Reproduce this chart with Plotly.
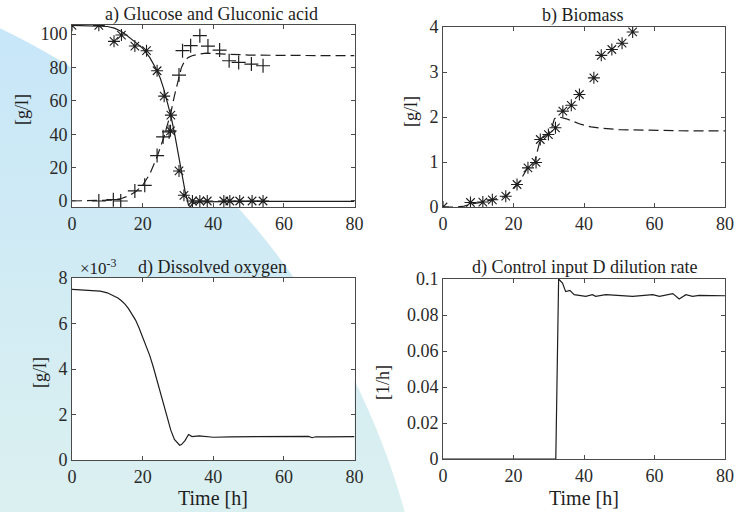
import base64
import plotly.graph_objects as go

# ---------------- data ----------------
time_ticks = [0, 20, 40, 60, 80]

# a) glucose / gluconic acid
t_glu_sim = [0, 5, 10, 12, 14, 15, 16, 18, 20, 22, 24, 25, 26, 27, 28, 29, 30, 31, 32, 33, 33.5, 34, 35, 36, 40, 50, 60, 70, 80]
glu_sim = [105.2, 105, 104.5, 103.5, 101.5, 100, 98.5, 95, 91.5, 86, 78.5, 73.5, 67, 59.5, 51, 41, 30, 18, 6, -2.5, -3.5, -2, -0.8, -0.5, -0.3, -0.2, -0.2, -0.2, -0.2]
t_gla_sim = [0, 10, 12, 14, 16, 18, 20, 22, 24, 26, 27, 28, 29, 30, 31, 32, 33, 34, 36, 38, 40, 45, 50, 60, 80]
gla_sim = [0, 0.2, 0.6, 1.5, 3, 5.5, 9.4, 16, 26, 38, 45, 53, 63, 72, 80, 84.4, 86, 87, 88, 88.5, 88.3, 87.8, 87.4, 87.2, 87]
t_glu_meas = [0, 7.6, 11.9, 14.0, 17.8, 21.1, 24.1, 26.1, 28.0, 27.9, 30.3, 31.7, 34.1, 36.2, 38.3, 43.0, 44.7, 47.5, 51.0, 54.1]
glu_meas = [105.2, 105.2, 95.6, 99.4, 92.8, 90.0, 78.0, 62.8, 51.4, 42.0, 18.0, 3.4, 0, 0, 0, 0, 0, 0, 0, 0]
t_gla_meas = [7.6, 11.7, 13.8, 17.8, 20.6, 24.1, 25.8, 27.5, 30.3, 31.3, 33.6, 36.2, 38.5, 41.8, 44.5, 47.2, 50.8, 54.1]
gla_meas = [0, 0.8, 0, 6, 9.4, 27.2, 38.4, 41.4, 75.4, 90, 93, 99, 92.8, 90.4, 84, 83, 82, 81]

# b) biomass
t_bio_sim = [0, 4, 6, 8, 10, 12, 14, 16, 18, 20, 21, 22, 24, 26, 27.6, 29, 30, 31, 31.6, 32.5, 33, 35, 37, 39, 42, 45, 50, 55, 60, 70, 80]
bio_sim = [0, 0, 0.02, 0.07, 0.09, 0.12, 0.16, 0.2, 0.25, 0.4, 0.5, 0.6, 0.87, 1.0, 1.5, 1.57, 1.63, 1.8, 1.96, 2.0, 2.0, 1.96, 1.9, 1.84, 1.78, 1.75, 1.72, 1.71, 1.70, 1.69, 1.69]
t_bio_meas = [0, 7.8, 11.3, 14, 17.8, 21, 24.1, 26.4, 27.6, 29.9, 31.9, 34, 36.4, 38.7, 42.8, 44.9, 47.9, 50.8, 53.8]
bio_meas = [0, 0.1, 0.11, 0.16, 0.24, 0.5, 0.87, 0.99, 1.5, 1.61, 1.76, 2.13, 2.26, 2.5, 2.87, 3.37, 3.5, 3.64, 3.89]

# d) dissolved oxygen [g/l]
t_do = [0, 5, 8, 10, 12, 13, 14, 15, 16, 17, 18, 19, 20, 21, 22, 23, 24, 25, 26, 27, 28, 29, 30, 30.5, 31, 32, 33, 33.5, 34, 36, 40, 45, 50, 55, 60, 65, 67, 68, 69, 72, 80]
do_sim = [7.5e-3, 7.46e-3, 7.42e-3, 7.35e-3, 7.22e-3, 7.12e-3, 7.0e-3, 6.85e-3, 6.65e-3, 6.42e-3, 6.15e-3, 5.8e-3, 5.4e-3, 5.0e-3, 4.6e-3, 4.1e-3, 3.55e-3, 2.95e-3, 2.35e-3, 1.8e-3, 1.3e-3, 0.9e-3, 0.7e-3, 0.65e-3, 0.68e-3, 0.85e-3, 1.12e-3, 1.06e-3, 1.03e-3, 1.06e-3, 1.0e-3, 1.02e-3, 1.03e-3, 1.02e-3, 1.04e-3, 1.03e-3, 1.04e-3, 0.98e-3, 1.02e-3, 1.02e-3, 1.03e-3]
do_ticks = [0, 0.002, 0.004, 0.006, 0.008]
do_ticktext = ["0", "2", "4", "6", "8"]

# d) control input D
t_d = [0, 32, 32.8, 33.9, 34.8, 36, 37.2, 40.5, 42.4, 43.3, 46.2, 50, 53.8, 59.5, 61.4, 65.2, 67, 68.9, 70.8, 72.7, 80]
d_sim = [0, 0, 0.1, 0.0978, 0.093, 0.0937, 0.0913, 0.0904, 0.0913, 0.0904, 0.0913, 0.0909, 0.0904, 0.0913, 0.0904, 0.0919, 0.0889, 0.0913, 0.0904, 0.0909, 0.0907]

# ---------------- figure ----------------
W, H = 736, 512
FONT = "Liberation Serif"
FS = 18
LINE = "#1e1e1e"
AX = "#4a4a4a"

def px_x(p):
    return p / W

def px_y(p):
    return 1 - p / H

dom = {
    "1": ([px_x(72), px_x(354.5)], [px_y(207), px_y(25)]),
    "2": ([px_x(443), px_x(725)], [px_y(207), px_y(27)]),
    "3": ([px_x(72), px_x(354.5)], [px_y(460), px_y(278)]),
    "4": ([px_x(443), px_x(725)], [px_y(459), px_y(279)]),
}

fig = go.Figure()

def add(x, y, ax, **kw):
    fig.add_trace(go.Scatter(x=x, y=y, xaxis="x" + ax, yaxis="y" + ax, showlegend=False, hoverinfo="skip", **kw))

ln = dict(color=LINE, width=1.2)
dash = dict(color=LINE, width=1.2, dash="10px,5px")
star = dict(symbol="asterisk-open", size=10, color=LINE, line=dict(color=LINE, width=1.1))
plus = dict(symbol="cross-thin-open", size=10, color=LINE, line=dict(color=LINE, width=1.2))

add(t_glu_sim, glu_sim, "", mode="lines", line=ln)
add(t_gla_sim, gla_sim, "", mode="lines", line=dash)
add(t_glu_meas, glu_meas, "", mode="markers", marker=star)
add(t_gla_meas, gla_meas, "", mode="markers", marker=plus)
add(t_bio_sim, bio_sim, "2", mode="lines", line=dash)
add(t_bio_meas, bio_meas, "2", mode="markers", marker=star)
add(t_do, do_sim, "3", mode="lines", line=ln)
add(t_d, d_sim, "4", mode="lines", line=ln)

base = dict(showline=True, linecolor=AX, linewidth=1, mirror="allticks", ticks="inside",
            ticklen=4, tickcolor=AX, showgrid=False, zeroline=False, automargin=False,
            tickfont=dict(family=FONT, size=FS, color="#2a2a2a"))

yranges = {"1": [-3.6, 105.4], "2": [0, 4], "3": [0, 0.008], "4": [0, 0.1]}
layout_axes = {}
for k, (xd, yd) in dom.items():
    sx = "" if k == "1" else k
    xa = dict(base, domain=xd, range=[0, 80], tickvals=time_ticks, anchor="y" + sx)
    ya = dict(base, domain=yd, range=yranges[k], anchor="x" + sx)
    if k == "1":
        ya["tickvals"] = [0, 20, 40, 60, 80, 100]
    if k == "2":
        ya["tickvals"] = [0, 1, 2, 3, 4]
    if k == "3":
        ya["tickvals"] = do_ticks
        ya["ticktext"] = do_ticktext
    if k == "4":
        ya["tickvals"] = [0, 0.02, 0.04, 0.06, 0.08, 0.1]
        ya["ticktext"] = ["0", "0.02", "0.04", "0.06", "0.08", "0.1"]
    layout_axes["xaxis" + sx] = xa
    layout_axes["yaxis" + sx] = ya

# background blob (decoration)
svg = ("<svg xmlns='http://www.w3.org/2000/svg' width='736' height='512' viewBox='0 0 736 512'>"
       "<defs><linearGradient id='g' gradientUnits='userSpaceOnUse' x1='0' y1='0' x2='0' y2='512'>"
       "<stop offset='0' stop-color='#c6e6f9'/><stop offset='1' stop-color='#dbf0f0'/></linearGradient></defs>"
       "<circle cx='-333' cy='718' r='766' fill='url(#g)'/></svg>")
src = "data:image/svg+xml;base64," + base64.b64encode(svg.encode()).decode()

shapes = []
for k, (xd, yd) in dom.items():
    shapes.append(dict(type="rect", xref="paper", yref="paper", x0=xd[0], x1=xd[1], y0=yd[0], y1=yd[1],
                       fillcolor="white", line=dict(width=0), layer="below"))

def tf(size=FS):
    return dict(family=FONT, size=size, color="#1e1e1e")

def ann(text, x, y, angle=0, size=FS):
    return dict(text=text, x=px_x(x), y=px_y(y), xref="paper", yref="paper", showarrow=False,
                font=tf(size), textangle=angle, xanchor="center", yanchor="middle")

annotations = [
    ann("a) Glucose and Gluconic acid", 211, 14),
    ann("b) Biomass", 583, 15),
    ann("d) Dissolved oxygen", 212, 267),
    ann("d) Control input D dilution rate", 584, 267),
    ann("×10<sup>-3</sup>", 99, 267, size=17),
    ann("[g/l]", 22, 110, angle=-90),
    ann("[g/l]", 411, 112, angle=-90),
    ann("[g/l]", 40, 373, angle=-90),
    ann("[1/h]", 383, 382, angle=-90),
    ann("Time [h]", 213, 498, size=20),
    ann("Time [h]", 584, 498, size=20),
]

fig.update_layout(
    width=W, height=H,
    margin=dict(l=0, r=0, t=0, b=0),
    paper_bgcolor="#ffffff", plot_bgcolor="#fffffe",
    font=dict(family=FONT, size=FS),
    images=[dict(source=src, xref="paper", yref="paper", x=0, y=1, sizex=1, sizey=1,
                 sizing="stretch", xanchor="left", yanchor="top", layer="below")],
    shapes=shapes,
    annotations=annotations,
    **layout_axes,
)

fig.write_html("out.html", config={"displayModeBar": False},
               post_script="document.body.style.margin='0';document.body.style.overflow='hidden';")
